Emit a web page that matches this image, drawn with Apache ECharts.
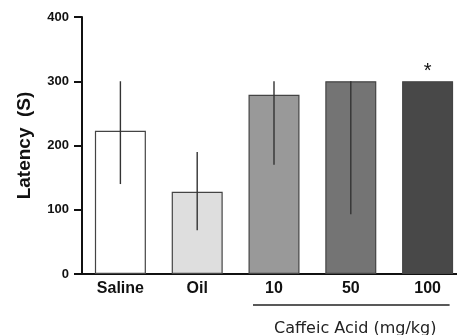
<!DOCTYPE html>
<html>
<head>
<meta charset="utf-8">
<script src="https://cdn.jsdelivr.net/npm/echarts@6/dist/echarts.min.js"></script>
<style>
  html, body { margin: 0; padding: 0; background: #fff; }
  #chart { width: 457px; height: 335px; }
</style>
</head>
<body>
<div id="chart"></div>
<script>
// Latency per treatment group (seconds)
const categories = ['Saline', 'Oil', '10', '50', '100'];
const latency = [223, 128, 279, 300, 300];
const errLow = [140, 68, 170, 300, 300];
const errHigh = [300, 190, 300, 93, 300];
const barColors = ['#ffffff', '#dedede', '#999999', '#747474', '#484848'];
const yTicks = [0, 100, 200, 300, 400];
const significant = [false, false, false, false, true];
const doseGroupLabel = 'Caffeic Acid (mg/kg)';
const doseGroup = ['10', '100'];

const chart = echarts.init(document.getElementById('chart'));
const fontFamily = '"Liberation Sans", Arial, sans-serif';

const option = {
  animation: false,
  grid: { left: 82, width: 384, top: 17, height: 257, outerBoundsMode: 'none', containLabel: false },
  xAxis: {
    type: 'category',
    data: categories,
    axisLine: { lineStyle: { color: '#111', width: 2 } },
    axisTick: { show: false },
    axisLabel: { color: '#111', fontWeight: 'bold', fontSize: 16, fontFamily, margin: 7 }
  },
  yAxis: {
    type: 'value',
    min: yTicks[0],
    max: yTicks[yTicks.length - 1],
    interval: 100,
    name: 'Latency  (S)',
    nameLocation: 'middle',
    nameGap: 48,
    nameTextStyle: { color: '#111', fontWeight: 'bold', fontSize: 19, fontFamily },
    axisLine: { show: true, lineStyle: { color: '#111', width: 2 } },
    axisTick: { show: true, length: 8, lineStyle: { color: '#111', width: 2 } },
    axisLabel: { color: '#111', fontWeight: 'bold', fontSize: 13, fontFamily, margin: 13 },
    splitLine: { show: false }
  },
  series: [
    {
      type: 'bar',
      barWidth: 51,
      data: latency.map((v, i) => ({
        value: v,
        itemStyle: { color: barColors[i], borderColor: '#444', borderWidth: 1.2 },
        label: significant[i]
          ? { show: true, position: 'top', distance: 0, formatter: '*', fontSize: 20, color: '#111', fontFamily }
          : { show: false }
      }))
    },
    {
      // vertical error bars (no caps)
      type: 'custom',
      z: 5,
      data: categories.map((c, i) => [i, errLow[i], errHigh[i]]),
      renderItem: function (params, api) {
        const a = api.coord([api.value(0), api.value(1)]);
        const b = api.coord([api.value(0), api.value(2)]);
        return {
          type: 'line',
          shape: { x1: a[0], y1: a[1], x2: b[0], y2: b[1] },
          style: { stroke: '#333', lineWidth: 1.4 }
        };
      }
    }
  ]
};
chart.setOption(option);

// Bracket line under the dose groups with its caption
const p1 = chart.convertToPixel({ xAxisIndex: 0 }, doseGroup[0]);
const p2 = chart.convertToPixel({ xAxisIndex: 0 }, doseGroup[1]);
const base = chart.convertToPixel({ yAxisIndex: 0 }, 0);
const x1 = p1 - 21, x2 = Math.min(p2 + 22, 451);
chart.setOption({
  graphic: [
    {
      type: 'line',
      shape: { x1: x1, y1: base + 31, x2: x2, y2: base + 31 },
      style: { stroke: '#222', lineWidth: 1.5 }
    },
    {
      type: 'text',
      x: (x1 + x2) / 2 + 4,
      y: base + 55,
      style: {
        text: doseGroupLabel,
        fill: '#222',
        font: '16px "DejaVu Sans", sans-serif',
        textAlign: 'center',
        textVerticalAlign: 'middle'
      }
    }
  ]
});
</script>
</body>
</html>
